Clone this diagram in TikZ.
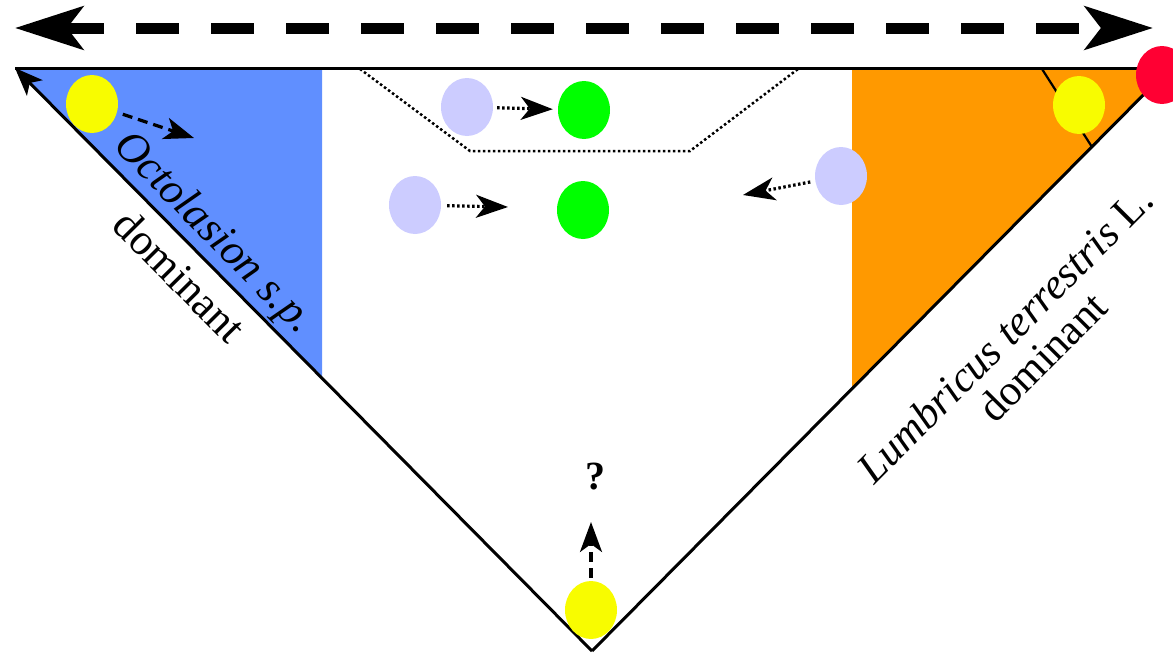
\documentclass[tikz,border=0pt]{standalone}
\usepackage{fontspec}
\setmainfont{Liberation Serif}
\usetikzlibrary{arrows.meta,shapes.geometric}
\definecolor{cblue}{RGB}{96,143,255}
\definecolor{corange}{RGB}{255,153,0}
\definecolor{cyellow}{RGB}{248,252,0}
\definecolor{cgreen}{RGB}{0,255,0}
\definecolor{clav}{RGB}{204,204,255}
\definecolor{cred}{RGB}{255,0,51}
\begin{document}
\begin{tikzpicture}[x=1pt,y=-1pt,
 blob/.style={ellipse,minimum width=52pt,minimum height=58pt,inner sep=0pt},
 edgeline/.style={line width=3pt},
 dasharrow/.style={line width=3.2pt,dash pattern=on 10pt off 6pt,-{Stealth[length=30pt,width=22pt,inset=8pt]}},
 dotarrow/.style={line width=3.2pt,dash pattern=on 2.5pt off 2.5pt,-{Stealth[length=32pt,width=23pt,inset=9pt]}},
 bighead/.style={line width=11pt,-{Stealth[length=68pt,width=43pt,inset=16pt]}},
 lbl/.style={font=\fontsize{43}{48}\selectfont,inner sep=0pt}
]
\useasboundingbox (0,0) rectangle (1173,653);
\coordinate (L) at (15,68);
\coordinate (R) at (1170,68);
\coordinate (B) at (592,651);
\coordinate (bl1) at (322,68);
\coordinate (bl2) at (322,379);
\coordinate (or1) at (852,68);
\coordinate (or2) at (852,389);
\fill[cblue] (L) -- (bl1) -- (bl2) -- cycle;
\fill[corange] (or1) -- (R) -- (or2) -- cycle;
\draw[line width=3pt] (L) -- (R);
\draw[edgeline] (B) -- (R);
\draw[edgeline,-{Stealth[length=28pt,width=22pt,inset=7pt]}] (B) -- (L);
\coordinate (c1) at (1042,69);
\coordinate (c2) at (1092,147);
\draw[line width=2.2pt] (c1) -- (c2);
\coordinate (p1) at (360,69);
\coordinate (p2) at (470,151);
\coordinate (p3) at (690,151);
\coordinate (p4) at (798,69);
\draw[line width=2.5pt,dash pattern=on 2.5pt off 2.5pt] (p1) -- (p2) -- (p3) -- (p4);
\node[blob,fill=cyellow] (y1) at (92,104) {};
\node[blob,fill=clav] (m1) at (467,107) {};
\node[blob,fill=cgreen] (g1) at (584,110) {};
\node[blob,fill=clav] (m2) at (415,205) {};
\node[blob,fill=cgreen] (g2) at (583,210) {};
\node[blob,fill=clav] (m3) at (841,176) {};
\node[blob,fill=cyellow] (y2) at (1079,105) {};
\node[blob,fill=cred] (r1) at (1162,75) {};
\node[blob,fill=cyellow] (y3) at (591,610) {};
\coordinate (t1) at (194,138);
\draw[dasharrow,shorten <=6pt] (y1) -- (t1);
\draw[dotarrow,shorten <=4pt,shorten >=5pt] (m1) -- (g1);
\coordinate (t3) at (508,207);
\draw[dotarrow,shorten <=6pt] (m2) -- (t3);
\coordinate (t4) at (743,195);
\draw[dotarrow,shorten <=5pt] (m3) -- (t4);
\coordinate (t5) at (591,522);
\draw[dasharrow,shorten <=3pt] (y3) -- (t5);
% top double arrow
\coordinate (al) at (15,28);
\coordinate (ar) at (1153,28);
\coordinate (s1) at (61,28);
\coordinate (s2) at (1080,28);
\coordinate (hl) at (95,28);
\coordinate (hr) at (1110,28);
\draw[line width=11pt,dash pattern=on 43pt off 32pt] (s1) -- (s2);
\draw[bighead] (hl) -- (al);
\draw[bighead] (hr) -- (ar);
\node[lbl,rotate=-45.3,font=\fontsize{44}{48}\selectfont\itshape] (oct) at (213,234) {Octolasion s.p.};
\node[lbl,rotate=-45.3,font=\fontsize{44}{48}\selectfont] (dl) at (180,276) {dominant};
\node[lbl,rotate=45.2] (lum) at (1005,334) {\textit{Lumbricus terrestris} L.};
\node[lbl,rotate=45.2] (dr) at (1042,357) {dominant};
\node[lbl,font=\fontsize{40}{46}\selectfont\bfseries] (q) at (595,477) {?};
\end{tikzpicture}
\end{document}
